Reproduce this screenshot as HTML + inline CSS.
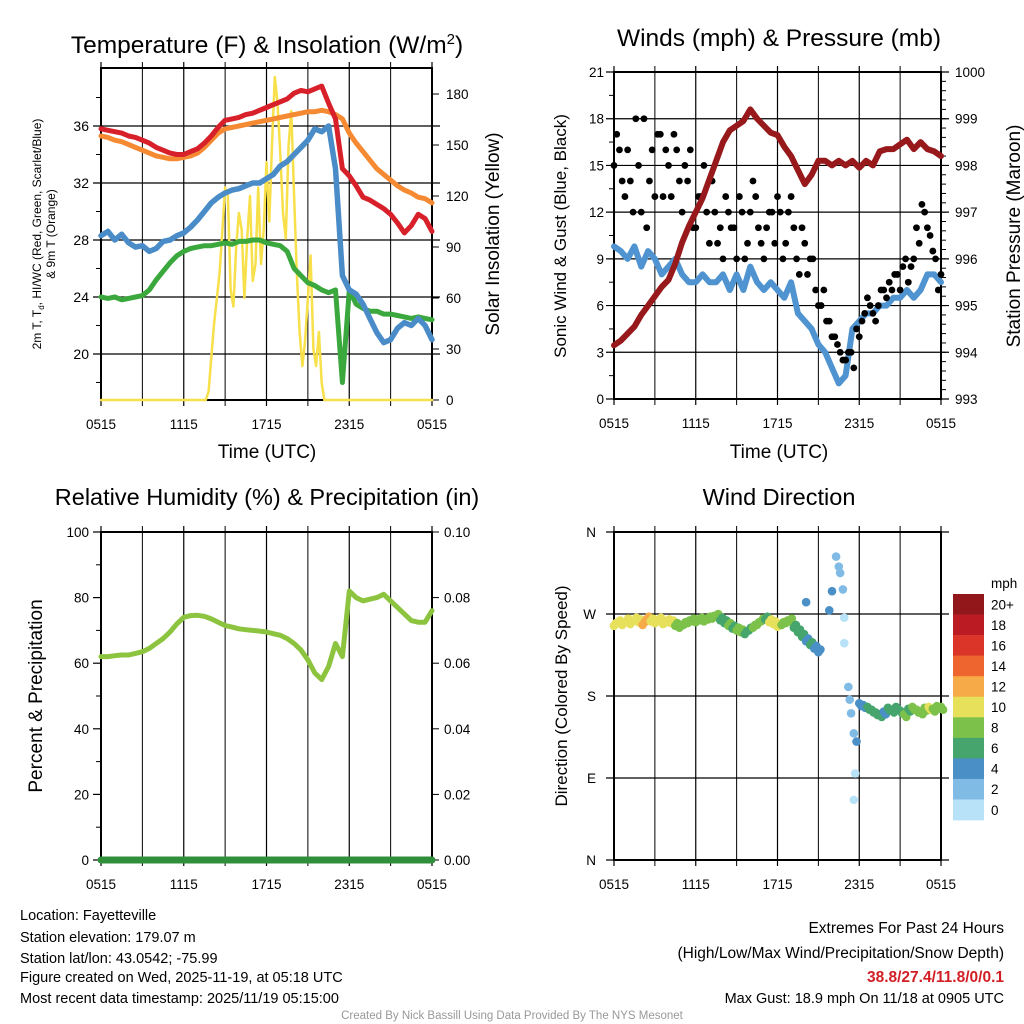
<!DOCTYPE html>
<html><head><meta charset="utf-8"><style>
html,body{margin:0;padding:0;background:#fff}
svg{display:block;font-family:"Liberation Sans",Arial,sans-serif}
</style></head><body>
<svg id="c" width="1024" height="1024" viewBox="0 0 1024 1024" xmlns="http://www.w3.org/2000/svg">
<rect width="1024" height="1024" fill="#fff"/>
<g id="p1"></g>
<g id="p2"></g>
<g id="p3"></g>
<g id="p4"></g>
<text x="267" y="53" font-size="24.5" text-anchor="middle">Temperature (F) &amp; Insolation (W/m<tspan font-size="15" dy="-9">2</tspan><tspan dy="9">)</tspan></text>
<text x="779" y="46" font-size="24.5" text-anchor="middle">Winds (mph) &amp; Pressure (mb)</text>
<text x="267" y="505" font-size="23.5" text-anchor="middle">Relative Humidity (%) &amp; Precipitation (in)</text>
<text x="779" y="505" font-size="23.5" text-anchor="middle">Wind Direction</text>
<text x="267" y="458" font-size="19" text-anchor="middle">Time (UTC)</text>
<text x="779" y="458" font-size="19" text-anchor="middle">Time (UTC)</text>
<text transform="translate(41,234) rotate(-90)" font-size="12" text-anchor="middle">2m T, T<tspan font-size="8" dy="3">d</tspan><tspan dy="-3">, HI/WC (Red, Green, Scarlet/Blue)</tspan></text>
<text transform="translate(55,234) rotate(-90)" font-size="12" text-anchor="middle">&amp; 9m T (Orange)</text>
<text transform="translate(499,234) rotate(-90)" font-size="19" text-anchor="middle">Solar Insolation (Yellow)</text>
<text transform="translate(566,236) rotate(-90)" font-size="17" text-anchor="middle">Sonic Wind &amp; Gust (Blue, Black)</text>
<text transform="translate(1020,236) rotate(-90)" font-size="19" text-anchor="middle">Station Pressure (Maroon)</text>
<text transform="translate(42,696) rotate(-90)" font-size="19" text-anchor="middle">Percent &amp; Precipitation</text>
<text transform="translate(567,696) rotate(-90)" font-size="17" text-anchor="middle">Direction (Colored By Speed)</text>
<g font-size="14.5">
<text x="20" y="920">Location: Fayetteville</text>
<text x="20" y="942">Station elevation: 179.07 m</text>
<text x="20" y="963">Station lat/lon: 43.0542; -75.99</text>
<text x="20" y="982">Figure created on Wed, 2025-11-19, at 05:18 UTC</text>
<text x="20" y="1003">Most recent data timestamp: 2025/11/19 05:15:00</text>
</g>
<g font-size="15.5" text-anchor="end">
<text x="1004" y="933">Extremes For Past 24 Hours</text>
<text x="1004" y="958">(High/Low/Max Wind/Precipitation/Snow Depth)</text>
<text x="1004" y="982" fill="#d21f26" font-weight="bold">38.8/27.4/11.8/0/0.1</text>
<text x="1004" y="1003" font-size="14.5">Max Gust: 18.9 mph On 11/18 at 0905 UTC</text>
</g>
<text x="512" y="1019" font-size="11.5" fill="#999" text-anchor="middle">Created By Nick Bassill Using Data Provided By The NYS Mesonet</text>
</svg>
<script>
const hourLabels=["0515","1115","1715","2315","0515"];
const tempTicks=[20,24,28,32,36];
const insolTicks=[0,30,60,90,120,150,180];
const windTicks=[0,3,6,9,12,15,18,21];
const presTicks=[993,994,995,996,997,998,999,1000];
const rhTicks=[0,20,40,60,80,100];
const precipTicks=["0.00","0.02","0.04","0.06","0.08","0.10"];
const dirLabels=["N","E","S","W","N"];
const speedLabels=["0","2","4","6","8","10","12","14","16","18","20+"];
const speedColors=["#b8e2f8","#7fbbe5","#4a8fc6","#46a56c","#7cc24a","#e6e05a","#f6aa48","#ef6530","#db3428","#bb1b23","#92171b"];

const redT=[35.8,35.7,35.6,35.5,35.3,35.2,35.0,34.8,34.5,34.3,34.1,34.0,34.0,34.2,34.4,34.8,35.3,35.9,36.4,36.5,36.6,36.8,36.9,37.1,37.3,37.5,37.7,37.9,38.3,38.5,38.4,38.6,38.8,37.6,36.5,33.0,32.5,31.8,31.0,30.8,30.5,30.2,29.8,29.2,28.5,29.0,29.8,29.5,28.6];
const orangeT=[35.3,35.2,35.0,34.9,34.7,34.5,34.3,34.1,33.9,33.8,33.7,33.7,33.8,33.9,34.1,34.5,35.0,35.5,35.8,35.9,36.0,36.1,36.2,36.3,36.4,36.5,36.6,36.7,36.8,36.9,37.0,37.0,37.1,37.0,36.8,36.5,35.5,34.8,34.2,33.6,33.0,32.6,32.2,31.8,31.5,31.3,31.0,30.9,30.6];
const blueHI=[28.3,28.6,28.0,28.4,27.8,27.5,27.6,27.2,27.4,27.9,28.0,28.3,28.5,28.9,29.4,30.0,30.6,31.0,31.3,31.5,31.6,31.8,32.0,32.0,32.3,32.6,33.2,33.5,34.0,34.5,35.0,35.8,35.6,36.0,33.0,25.5,24.5,24.2,23.5,22.5,21.5,20.8,21.0,21.8,22.2,22.0,22.5,22.0,21.0];
const greenTd=[24.0,23.9,24.0,23.8,23.9,24.0,24.1,24.5,25.2,25.8,26.4,26.9,27.2,27.4,27.5,27.6,27.6,27.7,27.8,27.7,27.9,27.9,28.0,28.0,27.8,27.7,27.6,27.2,26.0,25.5,25.0,24.8,24.5,24.3,24.5,18.0,24.5,23.5,23.2,23.0,23.0,22.8,22.8,22.7,22.6,22.5,22.6,22.5,22.4];
const insolStart=7.0, insolStep=0.2;
const insolation=[0,0,0,0,5,25,45,60,75,100,125,120,65,55,90,110,100,60,95,120,70,80,125,80,100,140,105,150,190,175,145,110,95,150,170,120,75,40,20,35,60,85,30,20,40,10,0];
const windSpd=[9.8,9.5,9.0,9.8,8.5,9.5,9.0,8.0,8.5,9.0,8.0,7.5,7.5,8.0,7.5,7.5,8.0,7.0,8.0,7.0,8.5,7.5,7.0,7.5,7.0,6.5,7.5,5.5,5.0,4.5,3.5,3.0,2.0,1.0,1.5,4.5,5.0,5.5,5.5,6.0,6.0,6.5,6.5,7.0,6.5,7.0,8.0,8.0,7.5];
const gustA=[15,16,13,14,18,12,11,16,17,13,15,17,14,15,16,11,13,12,14,10,9,12,11,13,9,12,13,10,11,12,13,9,12,11,8,10,9,7,6,5,4,3.5,2.5,3,2,4,5.5,6,5,7,6.5,7,8,8.5,7.5,9,10,12,10.5,9,8];
const gustB=[17,14,16,12,15,18,14,13,17,16,13,16,12,14,11,13,15,10,12,11,13,11,9,12,10,14,11,9,12,10,12,10,13,9,11,8,9,6,7,5,4,3,2.5,3,4.5,5,6.5,5.5,6,7,7.5,8,7,9,8.5,11,12.5,11,9.5,7];
const pressure=[994.15,994.25,994.4,994.55,994.8,995.0,995.2,995.4,995.55,995.9,996.35,996.7,997.0,997.3,997.7,998.1,998.5,998.75,998.85,998.95,999.2,999.0,998.85,998.7,998.65,998.4,998.2,997.9,997.6,997.8,998.1,998.1,998.0,998.1,998.0,998.1,997.95,998.1,998.0,998.3,998.35,998.35,998.45,998.55,998.35,998.5,998.35,998.3,998.2];
const rh=[62,62,62.3,62.5,62.5,63,63.5,64.5,66,67.5,69.5,72,74,74.5,74.6,74.3,73.5,72.5,71.5,71,70.5,70.2,70,69.8,69.5,69,68.5,67.5,66,64,61,57,55,59,66,62,82,80,79,79.5,80,81,79,77,75,73,72.5,72.5,76];
const precip=[0,0,0,0,0,0,0,0,0,0,0,0,0,0,0,0,0,0,0,0,0,0,0,0,0,0,0,0,0,0,0,0,0,0,0,0,0,0,0,0,0,0,0,0,0,0,0,0,0];
const dirMainDeg=[257,260,258,262,259,263,261,258,264,262,260,263,259,261,260,257,255,258,260,262,261,263,262,264,265,267,263,260,257,254,252,250,248,252,255,258,262,264,261,259,256,258,260,262,255,250,245,240,236,232,228];
const dirMainSpd=[10,9,10,9,10,10,9,12,12,10,9,9,10,10,9,8,8,7,8,7,8,8,7,7,8,7,6,6,7,6,7,8,6,6,7,8,7,6,10,9,10,8,7,8,6,6,5,4,6,4,4];
const dirShiftHour=[14.1,15.8,16.0,16.3,16.5,16.6,16.8,16.9,16.9,17.2,17.3,17.4,17.6,17.8,17.7,17.6];
const dirShiftDeg=[283,274,295,333,322,315,297,266,238,190,176,161,139,130,95,66];
const dirShiftSpd=[4,4,4,2,2,1,2,0,0,2,2,2,1,4,0,0];
const dirLateDeg=[172,170,168,165,162,160,163,167,165,168,164,160,166,168,165,163,167,168,166,169,168];
const dirLateSpd=[4,4,6,6,6,5,4,6,6,6,6,7,6,8,8,7,7,10,8,7,8];

const NS="http://www.w3.org/2000/svg";
function mk(parent,tag,attrs){const e=document.createElementNS(NS,tag);for(const k in attrs)e.setAttribute(k,attrs[k]);parent.appendChild(e);return e;}
function lin(d0,d1,r0,r1){return v=>r0+(v-d0)*(r1-r0)/(d1-d0);}

function frame(g,L,R,T,B){
  const xs=lin(0,24,L,R);
  for(let h=0;h<=24;h+=3){const l=mk(g,'line',{x1:xs(h),x2:xs(h),y1:T-6,y2:B+6,stroke:'#000','stroke-width':h%6?1:1.2});
    }
  hourLabels.forEach((s,i)=>{const t=mk(g,'text',{x:xs(i*6),y:B+29,'font-size':13.5,'text-anchor':'middle'});t.textContent=s;
    });
  const r=mk(g,'rect',{x:L,y:T,width:R-L,height:B-T,fill:'none',stroke:'#000','stroke-width':2});
  
  return xs;
}
function hgrid(g,L,R,y,full){const l=mk(g,'line',{x1:L-8,x2:full?R+8:L,y1:y,y2:y,stroke:'#000','stroke-width':1.2});
  }
function minor(g,x,y,dir){const l=mk(g,'line',{x1:x,x2:x+dir*5,y1:y,y2:y,stroke:'#000','stroke-width':1});
  }
function label(g,x,y,s,anchor,size){const t=mk(g,'text',{x:x,y:y+5,'font-size':size||13.5,'text-anchor':anchor});t.textContent=s;
  return t;}
function poly(g,xs,ys,vals,hours,color,w,name){
  const pts=vals.map((v,i)=>xs(hours(i)).toFixed(1)+','+ys(v).toFixed(1)).join(' ');
  const p=mk(g,'polyline',{points:pts,fill:'none',stroke:color,'stroke-width':w,'stroke-linejoin':'round','stroke-linecap':'round'});
  return p;}
const half=i=>i*0.5;

// Panel 1
(function(){const g=document.getElementById('p1');const L=101,R=432,T=68,B=400;
  const ys=lin(16.77,40.07,B,T), yr=lin(0,195.3,B,T);
  tempTicks.forEach(v=>{hgrid(g,L,R,ys(v),true);label(g,L-12,ys(v),String(v),'end',14);});
  for(let v=18;v<40;v+=4)minor(g,L,ys(v),-1);
  insolTicks.forEach(v=>{const l=mk(g,'line',{x1:R,x2:R+7,y1:yr(v),y2:yr(v),stroke:'#000'});label(g,R+14,yr(v),String(v),'start',13.5);});
  const xs=frame(g,L,R,T,B);
  poly(g,xs,yr,[0,0],i=>i?insolStart:0,'#f7e04a',2.5,'insolation-line-night');
  poly(g,xs,yr,insolation,i=>insolStart+i*insolStep,'#f7e04a',2.5,'insolation-line');
  poly(g,xs,yr,[0,0],i=>i?24:insolStart+(insolation.length-1)*insolStep,'#f7e04a',2.5,'insolation-line-evening');
  poly(g,xs,ys,greenTd,half,'#3aa83c',5,'dewpoint-line');
  poly(g,xs,ys,blueHI,half,'#4a8cc8',5.5,'heat-index-line');
  poly(g,xs,ys,orangeT,half,'#f58a33',5,'temperature-9m-line');
  poly(g,xs,ys,redT,half,'#d7202a',5,'temperature-2m-line');
})();

// Panel 2
(function(){const g=document.getElementById('p2');const L=614,R=941,T=72,B=399;
  const ys=lin(0,21,B,T), yp=lin(993,1000,B,T);
  windTicks.forEach(v=>{hgrid(g,L,R,ys(v),true);label(g,L-10,ys(v),String(v),'end',13.5);});
  for(let v=1.5;v<21;v+=3)minor(g,L,ys(v),-1);
  presTicks.forEach(v=>{label(g,R+14,yp(v),String(v),'start',13.5);});
  for(let v=993;v<1000;v+=0.2)minor(g,R,yp(v),1);
  const xs=frame(g,L,R,T,B);
  poly(g,xs,ys,windSpd,half,'#4f94d0',6,'wind-speed-line');
  [[gustA,0],[gustB,0.2]].forEach(([arr,off])=>arr.forEach((v,i)=>{
    const c=mk(g,'circle',{cx:xs(off+i*0.4),cy:ys(v),r:3.4,fill:'#000'});
    }));
  poly(g,xs,yp,pressure,half,'#98191c',6,'pressure-line');
})();

// Panel 3
(function(){const g=document.getElementById('p3');const L=101,R=432,T=532,B=860;
  const ys=lin(0,100,B,T), yr=lin(0,0.1,B,T);
  rhTicks.forEach((v,i)=>{hgrid(g,L,R,ys(v),false);label(g,L-12,ys(v),String(v),'end',13.5);
    const l=mk(g,'line',{x1:R,x2:R+7,y1:ys(v),y2:ys(v),stroke:'#000'});
    label(g,R+12,yr(Number(precipTicks[i])),precipTicks[i],'start',13.5);});
  for(let v=10;v<100;v+=20)minor(g,L,ys(v),-1);
  const xs=frame(g,L,R,T,B);
  poly(g,xs,ys,rh,half,'#8cc43f',5,'humidity-line');
  poly(g,xs,yr,precip,half,'#2f8f3a',7,'precipitation-line');
})();

// Panel 4
(function(){const g=document.getElementById('p4');const L=614,R=941,T=532,B=860;
  const ys=lin(0,360,B,T);
  dirLabels.forEach((s,i)=>{hgrid(g,L,R,ys(i*90),true);label(g,L-18,ys(i*90),s,'end',13.5);});
  const xs=frame(g,L,R,T,B);
  const col=s=>speedColors[Math.min(10,Math.round(s/2))];
  function dot(h,d,s){const c=mk(g,'circle',{cx:xs(h),cy:ys(d),r:4.3,fill:col(s)});
    }
  dirMainDeg.forEach((d,i)=>{dot(i*0.3,d,dirMainSpd[i]);dot(i*0.3+0.15,d+3,dirMainSpd[i]);});
  dirShiftDeg.forEach((d,i)=>dot(dirShiftHour[i],d,dirShiftSpd[i]));
  dirLateDeg.forEach((d,i)=>{dot(18+i*0.3,d,dirLateSpd[i]);dot(18.15+i*0.3,d-3,dirLateSpd[i]);});
  const cb=mk(g,'g',{});
  const top=594,h=20.55;
  speedColors.slice().reverse().forEach((c,i)=>{const r=mk(cb,'rect',{x:953,y:top+i*h,width:31,height:h+0.3,fill:c});
    });
  speedLabels.slice().reverse().forEach((s,i)=>{const t=mk(cb,'text',{x:991,y:top+i*h+h/2+5,'font-size':13.5});t.textContent=s;
    });
  const u=mk(cb,'text',{x:991,y:588,'font-size':13.5});u.textContent='mph';
  
})();
</script>
</body></html>
